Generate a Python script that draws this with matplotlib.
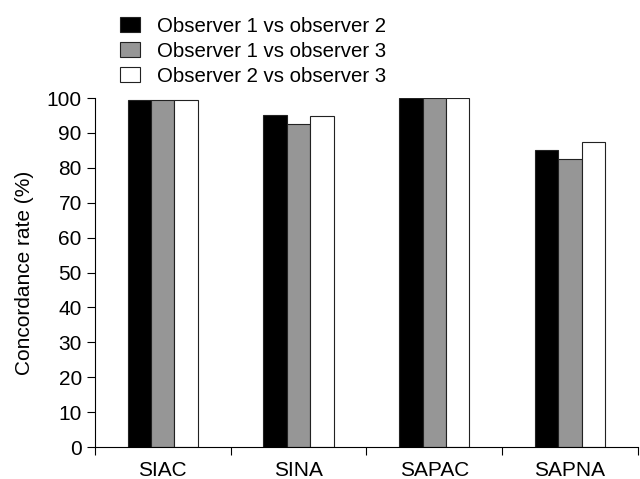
import numpy as np
import matplotlib.pyplot as plt
from matplotlib.ticker import FixedLocator, NullFormatter

plt.rcParams['font.family'] = ['Liberation Sans', 'DejaVu Sans']

categories = ['SIAC', 'SINA', 'SAPAC', 'SAPNA']
series_names = ['Observer 1 vs observer 2', 'Observer 1 vs observer 3', 'Observer 2 vs observer 3']
obs12 = [99.5, 95, 100, 85]
obs13 = [99.5, 92.5, 100, 82.5]
obs23 = [99.5, 94.8, 100, 87.5]
colors = ['#000000', '#969696', '#ffffff']

fig = plt.figure(figsize=(6.4, 4.79), dpi=100)
ax = fig.add_axes([0.1484, 0.0668, 0.848, 0.7286])

x = np.arange(len(categories))
w = 0.172
handles = []
for i, (vals, name, c) in enumerate(zip([obs12, obs13, obs23], series_names, colors)):
    b = ax.bar(x + (i - 1) * w, vals, w, color=c, edgecolor='#222222', linewidth=0.8, label=name)
    handles.append(b)

ax.set_xlim(-0.5, 3.5)
ax.set_ylim(0, 100)
ax.set_yticks(np.arange(0, 101, 10))
ax.set_xticks(x)
ax.set_xticklabels(categories)
ax.xaxis.set_minor_locator(FixedLocator(np.arange(-0.5, 3.6, 1)))
ax.xaxis.set_minor_formatter(NullFormatter())
ax.tick_params(axis='x', which='major', length=0, labelsize=15, pad=10)
ax.tick_params(axis='x', which='minor', length=6, width=0.8)
ax.tick_params(axis='y', length=6, width=0.8, labelsize=15, pad=3.5)
ax.spines['top'].set_visible(False)
ax.spines['right'].set_visible(False)
ax.set_ylabel('Concordance rate (%)', fontsize=15, labelpad=9)

fig.legend(handles=handles, loc='upper left', bbox_to_anchor=(0.1875, 0.965),
           frameon=False, fontsize=14.7, handlelength=1.0, handleheight=0.75,
           handletextpad=0.83, labelspacing=0.3, borderaxespad=0, borderpad=0)

fig.savefig('out.png', dpi=100)
